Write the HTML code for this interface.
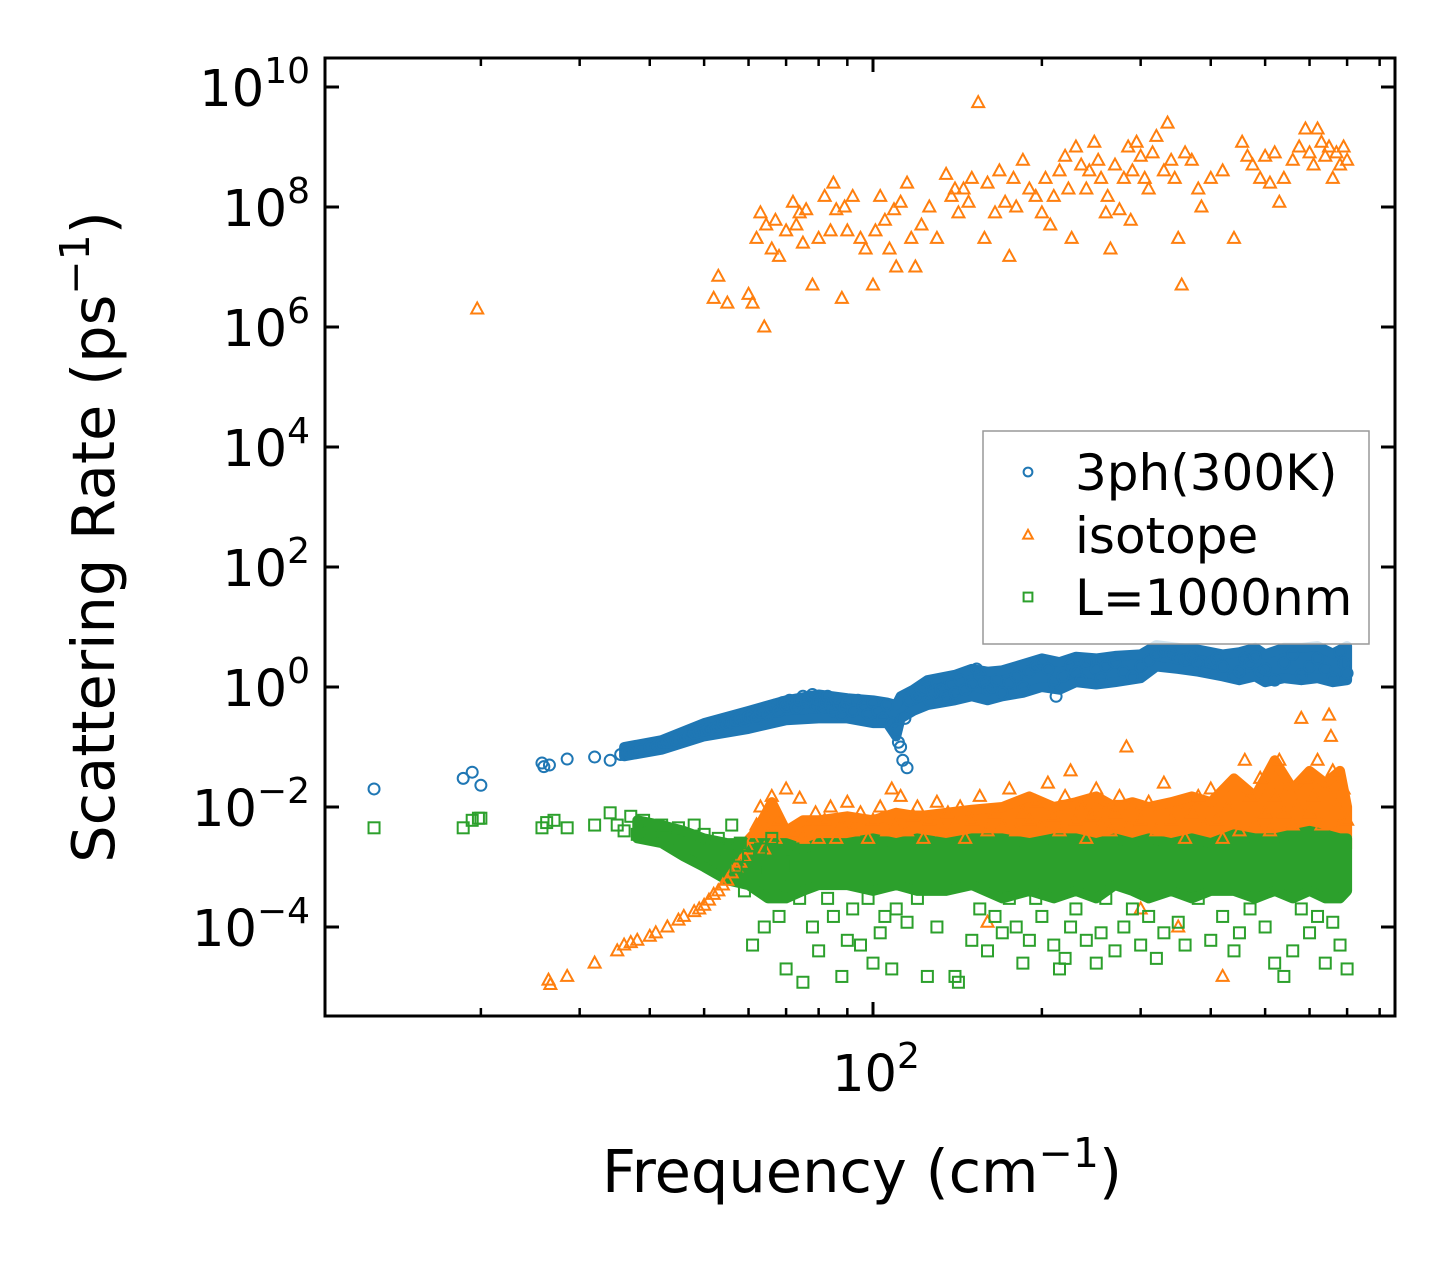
<!DOCTYPE html>
<html><head><meta charset="utf-8"><style>
html,body{margin:0;padding:0;background:#fff}
svg{display:block;font-family:"DejaVu Sans","Liberation Sans",sans-serif}
</style></head><body>
<svg id="chart" width="1455" height="1265" viewBox="0 0 1455 1265" xmlns="http://www.w3.org/2000/svg">
<rect width="1455" height="1265" fill="#fff"/>
<g id="bands"></g>
<g id="marks"></g>
<g id="axes"></g>
<g id="legend"></g>
</svg>
<script>
// ---- data ----
const threePhFreq = [12.9,18.6,19.3,20,25.7,25.9,26.5,28.5,31.9,34,35.5,36.5,37.5,38.5,40,41,42,43,44.5,46,47,48,49,50,51,52,53,54,55,56,57,58,59,60,61,62,63,64,65,66,67,68,69,70,71,72,73,74,75,76,77,78,79,80,81,82,83,84,85,86,87,88,89,90,92,94,96,98,100,102,104,106,108,110,111,112,113,115,114,116,118,120,122,124,126,128,130,132,135,138,140,143,146,150,153,155,158,160,163,166,170,175,180,185,190,195,200,205,210,212,218,225,230,235,240,245,250,255,260,270,280,290,300,310,320,330,340,350,360,370,380,390,400,410,420,440,450,460,470,480,490,500,520,540,560,580,600,620,640,660,680,690,700];
const threePhRate = [.02,.03,.038,.023,.054,.047,.05,.063,.068,.06,.075,.08,.085,.09,.1,.1,.11,.12,.13,.14,.15,.17,.18,.19,.2,.2,.22,.25,.24,.26,.28,.3,.27,.32,.35,.3,.38,.42,.35,.45,.5,.4,.55,.48,.6,.52,.45,.6,.7,.55,.65,.75,.5,.6,.45,.55,.7,.5,.4,.6,.5,.35,.45,.55,.4,.6,.5,.35,.55,.4,.3,.5,.25,.2,.12,.1,.06,.045,.3,.6,.8,.7,.9,1,.6,.8,1.2,.9,.7,1.1,.8,1.3,.9,1.1,2,1.6,1.2,.9,1,1.3,.8,1.2,1.5,1,1.8,2.2,2.5,2,1.2,.7,1.5,2.3,1.8,1.3,2.5,2.8,2,1.4,2.2,2.6,1.8,1.5,2.2,2.8,3.5,4,3.6,3,2.8,3.2,2.5,2,2.6,3,2.2,1.5,1.8,3,2.5,3.2,1.7,2,1.3,2.5,3.5,1.6,2.2,3,2,1.4,3.8,2.5,1.7];
const threePhBandFreq = [36,42,50,60,70,80,90,100,106,110,112,118,125,140,150,160,170,185,200,215,230,250,270,300,320,350,380,420,450,480,500,540,580,620,660,700];
const threePhBandLo =   [.07,.09,.15,.2,.28,.3,.3,.25,.25,.15,.3,.4,.5,.6,.7,.6,.7,.8,1,.9,1.2,1.1,1.2,1.4,2.2,2,1.8,1.5,1.3,1.5,1.2,1.4,1.3,1.4,1.2,1.3];
const threePhBandHi =   [.1,.13,.25,.4,.6,.75,.65,.6,.55,.5,.7,.9,1.3,1.6,2,1.8,1.9,2.4,3,2.6,3.2,3,3.3,3.5,5,4.5,4.2,3.5,3.8,4.5,3.5,4.5,4.5,4.8,3.6,4.8];

const isoFreq = [19.7,52,53,55,60,61,62,63,64,64.5,66,67,68,70,72,73,74,75,76,78,80,82,84,85,86,88,89,90,92,95,97,100,101,103,105,107,109,110,112,115,117,119,122,126,130,135,138,140,142,145,148,150,154,158,160,165,168,172,175,178,180,185,190,195,200,203,207,210,215,220,223,226,230,235,240,243,248,252,255,260,262,265,270,275,280,285,288,290,295,300,305,310,315,320,330,335,340,345,350,355,360,370,380,385,400,420,440,455,465,475,490,500,510,520,530,540,560,575,590,600,610,620,630,640,650,660,670,680,690,700,
 26.4,26.6,28.5,31.9,35,36,37,38,40,41,43,45,46,48,49,50,51,52,53,54,55,56,57,58,59,60,61,62,63,64,65,66,67,68,70,72,74,75,77,79,80,82,84,86,88,90,92,95,98,100,103,106,108,110,112,115,118,120,123,126,130,133,136,140,143,146,150,155,160,165,170,175,180,185,190,195,200,205,210,215,220,225,230,235,240,245,250,255,260,265,270,275,283,285,290,300,310,320,330,340,350,360,370,380,390,400,410,420,430,450,460,470,480,490,500,510,520,530,540,550,560,570,580,590,600,610,620,630,640,650,655,660,670,680,690,700,160,350,420,300];
const isoRate = [2e6,3e6,7e6,2.5e6,3.5e6,2.5e6,3e7,8e7,1e6,5e7,2e7,6e7,1.5e7,4e7,1.2e8,5e7,8e7,2.5e7,9e7,5e6,3e7,1.5e8,4e7,2.5e8,9e7,3e6,1e8,4e7,1.5e8,3e7,2e7,5e6,4e7,1.5e8,6e7,2e7,9e7,1e7,1.2e8,2.5e8,3e7,1e7,5e7,1e8,3e7,3.5e8,1.5e8,2e8,8e7,2e8,1.2e8,3e8,5.5e9,3e7,2.5e8,8e7,4e8,1.2e8,1.5e7,3e8,1e8,6e8,2e8,1.5e8,8e7,3e8,5e7,1.5e8,4e8,7e8,2e8,3e7,1e9,5e8,2e8,4e8,1.2e9,6e8,3e8,8e7,1.5e8,2e7,5e8,9e7,3e8,1e9,6e7,4e8,1.2e9,7e8,3e8,2e8,8e8,1.5e9,4e8,2.5e9,6e8,3e8,3e7,5e6,8e8,6e8,2e8,1e8,3e8,4e8,3e7,1.2e9,7e8,5e8,3e8,7e8,2.5e8,8e8,1.2e8,3e8,6e8,1e9,2e9,8e8,5e8,2e9,1.2e9,7e8,1e9,3e8,8e8,5e8,1e9,6e8,
 1.3e-5,1.1e-5,1.5e-5,2.5e-5,4e-5,5e-5,5.5e-5,6e-5,7e-5,8e-5,1e-4,1.3e-4,1.5e-4,1.8e-4,2e-4,2.3e-4,2.8e-4,3.5e-4,4e-4,5e-4,6e-4,8e-4,1e-3,1.2e-3,1.5e-3,2e-3,3e-3,5e-3,1e-2,2e-3,4e-3,1.5e-2,3e-3,6e-3,2e-2,4e-3,1.4e-2,3e-3,5e-3,8e-3,3e-3,6e-3,1e-2,3e-3,5e-3,1.2e-2,4e-3,8e-3,3e-3,6e-3,1e-2,4e-3,2e-2,5e-3,1.5e-2,4e-3,7e-3,1e-2,3e-3,6e-3,1.2e-2,4e-3,8e-3,5e-3,1e-2,3e-3,6e-3,1.5e-2,4e-3,8e-3,5e-3,2e-2,4e-3,8e-3,6e-3,1.2e-2,5e-3,2.5e-2,7e-3,4e-3,1.5e-2,4e-2,6e-3,1e-2,3e-3,7e-3,2e-2,5e-3,1e-2,4e-3,8e-3,1.5e-2,0.1,5e-3,1e-2,6e-3,1.2e-2,4e-3,2.5e-2,6e-3,1e-2,3e-3,8e-3,1.5e-2,5e-3,2e-2,6e-3,3e-3,1e-2,4e-3,6e-2,1.5e-2,5e-3,3e-2,8e-3,4e-3,1.5e-2,6e-2,8e-3,2e-2,5e-3,1e-2,0.3,3e-2,8e-3,1.5e-2,6e-2,5e-3,2e-2,0.34,0.15,4e-2,1e-2,5e-3,2e-2,6e-3,1.2e-4,1e-4,1.5e-5,2e-4];
const isoBandFreq = [58,62,66,70,75,80,90,100,110,120,135,150,170,190,210,230,250,270,290,310,340,370,400,440,480,520,560,600,640,680,700];
const isoBandLo =   [1e-3,1.5e-3,1.5e-3,1.5e-3,2e-3,2e-3,2e-3,2e-3,2e-3,2e-3,2e-3,2e-3,2e-3,2e-3,2e-3,2e-3,2e-3,2e-3,2e-3,2e-3,2e-3,2e-3,2e-3,2e-3,2e-3,2e-3,2e-3,2e-3,2e-3,2e-3,2e-3];
const isoBandHi =   [2e-3,4e-3,1.2e-2,4e-3,6e-3,6e-3,7e-3,6e-3,8e-3,7e-3,8e-3,9e-3,1e-2,1.5e-2,1e-2,1.2e-2,1.5e-2,1e-2,1.2e-2,1e-2,1.2e-2,1.5e-2,1.2e-2,3e-2,1.5e-2,6e-2,2e-2,4e-2,2.5e-2,4e-2,1e-2];

const bdyFreq = [12.9,18.6,19.3,19.8,20,25.7,26.2,27,28.5,31.9,34,35,36,37,38,39,40,42,43,45,46,48,49,50,52,53,55,56,57,58,59,60,61,62,63,64,65,66,67,68,69,70,71,72,73,74,75,78,80,83,85,88,90,92,95,98,100,103,105,108,110,115,120,125,130,140,142,150,155,160,165,170,175,180,185,190,195,200,210,215,220,225,230,240,250,255,260,270,280,290,300,310,320,330,350,360,380,400,420,440,450,470,500,520,540,560,580,600,620,640,660,680,700];
const bdyRate = [4.5e-3,4.5e-3,6e-3,6.5e-3,6.5e-3,4.5e-3,5.5e-3,6e-3,4.5e-3,5e-3,8e-3,5e-3,4e-3,7e-3,3.5e-3,6e-3,4e-3,5e-3,3e-3,4.5e-3,2.5e-3,5e-3,2e-3,3.5e-3,1.5e-3,3e-3,2e-3,5e-3,1e-3,2.5e-3,4e-4,1.5e-3,5e-5,8e-4,2e-3,1e-4,1e-3,3e-3,5e-4,1.5e-4,1.2e-3,2e-5,7e-4,2e-3,1e-3,3e-4,1.2e-5,1e-4,4e-5,3e-4,1.5e-4,1.5e-5,6e-5,2e-4,5e-5,3e-4,2.5e-5,8e-5,1.5e-4,2e-5,2e-4,1.2e-4,3e-4,1.5e-5,1e-4,1.5e-5,1.2e-5,6e-5,2e-4,4e-5,1.5e-4,8e-5,3e-4,1e-4,2.5e-5,6e-5,3e-4,1.5e-4,5e-5,2e-5,3e-5,1e-4,2e-4,6e-5,2.5e-5,8e-5,3e-4,4e-5,1e-4,2e-4,5e-5,1.5e-4,3e-5,8e-5,1.2e-4,5e-5,3e-4,6e-5,1.5e-4,4e-5,8e-5,2e-4,1e-4,2.5e-5,1.5e-5,4e-5,2e-4,8e-5,1.5e-4,2.5e-5,1.2e-4,5e-5,2e-5];
const bdyBandFreq = [38,42,46,50,55,60,65,70,75,80,90,100,110,120,135,150,170,190,210,230,250,270,290,310,340,370,400,440,480,520,560,600,640,680,700];
const bdyBandLo =   [3e-3,2.5e-3,1.5e-3,1e-3,6e-4,5e-4,3e-4,3e-4,4e-4,5e-4,5e-4,4e-4,5e-4,4e-4,4e-4,5e-4,3e-4,4e-4,3e-4,4e-4,3e-4,5e-4,4e-4,3e-4,4e-4,3e-4,4e-4,4e-4,3e-4,4e-4,3e-4,4e-4,3e-4,3e-4,4e-4];
const bdyBandHi =   [6e-3,5e-3,4e-3,3e-3,2.5e-3,2.5e-3,2.5e-3,2.5e-3,2e-3,2.5e-3,2.5e-3,3e-3,2.5e-3,3e-3,2.5e-3,3e-3,3e-3,2.5e-3,3e-3,3e-3,2.5e-3,3e-3,2.5e-3,3e-3,2.5e-3,3e-3,2.5e-3,3.5e-3,3e-3,3e-3,3.5e-3,4e-3,3.5e-3,3e-3,3e-3];

const yTickExp = [10,8,6,4,2,0,-2,-4];
const xMinorTicks = [20,30,40,50,60,70,80,90,200,300,400,500,600,700,800];

// ---- axes functions ----
const PL=325,PR=1395,PT=58,PB=1016;
function xs(f){return 873+561*(Math.log10(f)-2);}
function ys(r){return 687-60*Math.log10(r);}
const NS='http://www.w3.org/2000/svg';
function mk(tag,attrs,parent){const e=document.createElementNS(NS,tag);for(const k in attrs)e.setAttribute(k,attrs[k]);parent.appendChild(e);return e;}

const C1='#1f77b4',C2='#ff7f0e',C3='#2ca02c';
const bands=document.getElementById('bands'),marks=document.getElementById('marks'),axes=document.getElementById('axes'),legend=document.getElementById('legend');

function band(fr,lo,hi,color,name){
  let pts=[];
  for(let i=0;i<fr.length;i++)pts.push(xs(fr[i]).toFixed(1)+','+ys(hi[i]).toFixed(1));
  for(let i=fr.length-1;i>=0;i--)pts.push(xs(fr[i]).toFixed(1)+','+ys(lo[i]).toFixed(1));
  const p=mk('polygon',{points:pts.join(' '),fill:color,stroke:color,'stroke-width':10,'stroke-linejoin':'round'},bands);
  
  
}
function circle(x,y,g,color,s){s=s||1;return mk('circle',{cx:x,cy:y,r:5.5*s,fill:'none',stroke:color,'stroke-width':2},g);}
function tri(x,y,g,color,s){s=s||1;return mk('polygon',{points:`${x},${y-6.5*s} ${x-6*s},${y+4.5*s} ${x+6*s},${y+4.5*s}`,fill:'none',stroke:color,'stroke-width':2},g);}
function sq(x,y,g,color,s){s=s||1;return mk('rect',{x:x-5.5*s,y:y-5.5*s,width:11*s,height:11*s,fill:'none',stroke:color,'stroke-width':2},g);}

band(threePhBandFreq,threePhBandLo,threePhBandHi,C1,'band-3ph');
band(isoBandFreq,isoBandLo,isoBandHi,C2,'band-isotope');
band(bdyBandFreq,bdyBandLo,bdyBandHi,C3,'band-boundary');

const g1=mk('g',{},marks);


threePhFreq.forEach((f,i)=>{const e=circle(xs(f),ys(threePhRate[i]),g1,C1);

});
const g2=mk('g',{},marks);


isoFreq.forEach((f,i)=>{const e=tri(xs(f),ys(isoRate[i]),g2,C2);

});
const g3=mk('g',{},marks);


bdyFreq.forEach((f,i)=>{const e=sq(xs(f),ys(bdyRate[i]),g3,C3);

});

// frame
const fr=mk('rect',{x:PL,y:PT,width:PR-PL,height:PB-PT,fill:'none',stroke:'#000','stroke-width':3},axes);



// y ticks
yTickExp.forEach(e=>{
  const y=ys(Math.pow(10,e));
  mk('line',{x1:PL,x2:PL+14,y1:y,y2:y,stroke:'#000','stroke-width':3},axes);
  mk('line',{x1:PR,x2:PR-14,y1:y,y2:y,stroke:'#000','stroke-width':3},axes);
  const t=mk('text',{x:310,y:y+19,'text-anchor':'end','font-size':51,fill:'#000'},axes);
  
  
  t.appendChild(document.createTextNode('10'));
  const s=mk('tspan',{dy:-23,'font-size':36},t);
  s.textContent=(e<0?'\u2212'+(-e):String(e));
});
// x ticks
{const x=xs(100);
 mk('line',{x1:x,x2:x,y1:PB,y2:PB-14,stroke:'#000','stroke-width':3},axes);
 mk('line',{x1:x,x2:x,y1:PT,y2:PT+14,stroke:'#000','stroke-width':3},axes);
 const t=mk('text',{x:x+3,y:1091,'text-anchor':'middle','font-size':51,fill:'#000'},axes);
 
 
 t.appendChild(document.createTextNode('10'));
 const s=mk('tspan',{dy:-23,'font-size':36},t); s.textContent='2';}
xMinorTicks.forEach(f=>{const x=xs(f);
 mk('line',{x1:x,x2:x,y1:PB,y2:PB-8,stroke:'#000','stroke-width':2.5},axes);
 mk('line',{x1:x,x2:x,y1:PT,y2:PT+8,stroke:'#000','stroke-width':2.5},axes);});

// axis titles
const xt=mk('text',{x:862,y:1192,'text-anchor':'middle','font-size':59,fill:'#000'},axes);


xt.appendChild(document.createTextNode('Frequency (cm'));
{const s=mk('tspan',{dy:-25,'font-size':41},xt);s.textContent='\u22121';
 const s2=mk('tspan',{dy:25},xt);s2.textContent=')';}
const yt=mk('text',{x:0,y:0,'text-anchor':'middle','font-size':59,fill:'#000',transform:'translate(114,537) rotate(-90)'},axes);


yt.appendChild(document.createTextNode('Scattering Rate (ps'));
{const s=mk('tspan',{dy:-25,'font-size':41},yt);s.textContent='\u22121';
 const s2=mk('tspan',{dy:25},yt);s2.textContent=')';}

// legend
const lb=mk('rect',{x:983,y:431,width:386,height:213,fill:'#fff','fill-opacity':0.8,stroke:'#999','stroke-width':1.5},legend);


const entries=[['3ph(300K)',C1,circle,472,'legend-entry-3ph'],['isotope',C2,tri,535,'legend-entry-isotope'],['L=1000nm',C3,sq,597,'legend-entry-boundary']];
entries.forEach(en=>{
  const g=mk('g',{},legend);
  
  
  en[2](1028,en[3],g,en[1],0.8);
  const t=mk('text',{x:1075,y:en[3]+18,'font-size':50,fill:'#000'},g);
  t.textContent=en[0];
});
</script>
</body></html>
